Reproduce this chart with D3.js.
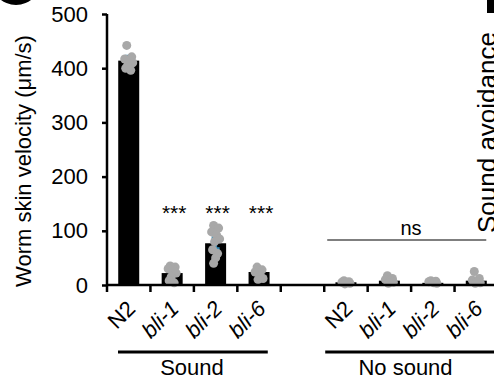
<!DOCTYPE html>
<html>
<head>
<meta charset="utf-8">
<script src="https://cdn.jsdelivr.net/npm/d3@7"></script>
<style>
  body { margin: 0; background: #fff; }
  text { font-family: "Liberation Sans", Arial, sans-serif; fill: #000; }
</style>
</head>
<body>
<div id="chart"></div>
<script>
const groups = ["Sound", "No sound"]
const strains = ["N2", "bli-1", "bli-2", "bli-6"]
const yTicks = [0, 100, 200, 300, 400, 500]

const soundMeans = [414, 22, 77, 24]
const soundSem = [8, 4, 10, 4]
const noSoundMeans = [5, 8, 4, 8]
const noSoundSem = [1, 2, 1, 3]

const soundPoints = [
  [442, 421, 417, 414, 410, 405, 400, 396],
  [35, 33, 30, 28, 22, 15, 8, 4],
  [110, 105, 98, 92, 85, 80, 65, 58, 50, 40],
  [33, 28, 24, 18, 12, 10]
]
const noSoundPoints = [
  [8, 6, 5, 4, 3, 2],
  [17, 12, 10, 7, 5, 3],
  [8, 7, 6, 4, 3],
  [25, 12, 9, 6, 4, 3]
]
const soundStars = ["", "***", "***", "***"]
const noSoundLabel = "ns"

const width = 494, height = 383
const blue = "#3a8db4", grey = "#a8a8a8"

// one band per bar, with an empty band between the two groups
const slots = [
  ...strains.map((s, i) => ({ key: "s" + i, strain: s, mean: soundMeans[i], sem: soundSem[i], pts: soundPoints[i] })),
  { key: "gap" },
  ...strains.map((s, i) => ({ key: "n" + i, strain: s, mean: noSoundMeans[i], sem: noSoundSem[i], pts: noSoundPoints[i] }))
]

const svg = d3.select("#chart").append("svg")
  .attr("width", width)
  .attr("height", height)

const x = d3.scaleBand()
  .domain(slots.map(d => d.key))
  .range([107, 498])
  .padding(0)

const y = d3.scaleLinear()
  .domain([0, 500])
  .range([285, 14])

const bw = x.bandwidth()
const barW = 21
const cx = k => x(k) + bw / 2
const bars = slots.filter(d => d.key !== "gap")

// panel letters (cropped)
svg.append("circle").attr("cx", 16).attr("cy", -20).attr("r", 25).attr("fill", "#000")
svg.append("rect").attr("x", 487).attr("y", 0).attr("width", 7).attr("height", 13).attr("fill", "#000")

// bars
svg.append("g").selectAll("rect")
  .data(bars)
  .join("rect")
  .attr("x", d => cx(d.key) - barW / 2)
  .attr("y", d => y(d.mean))
  .attr("width", barW)
  .attr("height", d => y(0) - y(d.mean))
  .attr("fill", "#000")

// error bars
const eb = svg.append("g").attr("stroke", blue).attr("stroke-width", 3)
eb.selectAll("line.v")
  .data(bars)
  .join("line")
  .attr("class", "v")
  .attr("x1", d => cx(d.key)).attr("x2", d => cx(d.key))
  .attr("y1", d => y(d.mean - d.sem)).attr("y2", d => y(d.mean + d.sem))
eb.selectAll("line.cap")
  .data(bars.flatMap(d => [{ k: d.key, v: d.mean + d.sem }, { k: d.key, v: d.mean - d.sem }]))
  .join("line")
  .attr("class", "cap")
  .attr("x1", d => cx(d.k) - 4).attr("x2", d => cx(d.k) + 4)
  .attr("y1", d => y(d.v)).attr("y2", d => y(d.v))

// points
const jitter = [-2, 3, -4, 1, 4, -1, -3, 2, 0, -2]
svg.append("g").selectAll("circle")
  .data(bars.flatMap(d => d.pts.map((v, i) => ({ k: d.key, v, i }))))
  .join("circle")
  .attr("cx", d => cx(d.k) + jitter[d.i % jitter.length])
  .attr("cy", d => y(d.v))
  .attr("r", 4.5)
  .attr("fill", grey)

// y axis
const yAxis = d3.axisLeft(y).tickValues(yTicks).tickSize(5).tickPadding(14)
const gy = svg.append("g").attr("transform", "translate(107,0)").call(yAxis)
gy.select(".domain").attr("stroke-width", 2.5).attr("d", "M0,285V14")
gy.selectAll(".tick line").attr("stroke-width", 2.5)
gy.selectAll(".tick text").attr("font-size", 22).attr("font-family", "Liberation Sans, Arial, sans-serif")

svg.append("text")
  .attr("transform", "translate(31,161) rotate(-90)")
  .attr("text-anchor", "middle")
  .attr("font-size", 22)
  .text("Worm skin velocity (μm/s)")

// x axis: line with ticks at band edges
const gx = svg.append("g")
gx.append("line")
  .attr("x1", 106).attr("x2", width)
  .attr("y1", y(0)).attr("y2", y(0))
  .attr("stroke", "#000").attr("stroke-width", 2.5)
gx.selectAll("line.t")
  .data(slots)
  .join("line")
  .attr("class", "t")
  .attr("x1", d => x(d.key)).attr("x2", d => x(d.key))
  .attr("y1", y(0)).attr("y2", y(0) + 7)
  .attr("stroke", "#000").attr("stroke-width", 2.5)

gx.selectAll("text")
  .data(bars)
  .join("text")
  .attr("transform", d => `translate(${cx(d.key) + 8},310) rotate(-45)`)
  .attr("text-anchor", "end")
  .attr("font-size", 22)
  .attr("font-style", d => d.strain === "N2" ? "normal" : "italic")
  .text(d => d.strain)

// significance
svg.append("g").selectAll("text")
  .data(bars.slice(0, 4))
  .join("text")
  .attr("x", d => cx(d.key) + 2)
  .attr("y", 220)
  .attr("text-anchor", "middle")
  .attr("font-size", 21)
  .text((d, i) => soundStars[i])

const ns = bars.slice(4)
svg.append("line")
  .attr("x1", x(ns[0].key) + 3).attr("x2", cx(ns[3].key) + 10)
  .attr("y1", 240).attr("y2", 240)
  .attr("stroke", "#000").attr("stroke-width", 1.2)
svg.append("text")
  .attr("x", 411).attr("y", 235)
  .attr("text-anchor", "middle")
  .attr("font-size", 20)
  .text(noSoundLabel)

// group labels
const groupSpan = [bars.slice(0, 4), bars.slice(4)]
groupSpan.forEach((g, i) => {
  const left = x(g[0].key) + 11 - (i ? 10 : 0)
  const right = x(g[3].key) + bw - 13 + (i ? 10 : 0)
  svg.append("line")
    .attr("x1", left).attr("x2", right)
    .attr("y1", 352).attr("y2", 352)
    .attr("stroke", "#000").attr("stroke-width", 3)
  svg.append("text")
    .attr("x", i ? 405.5 : 192)
    .attr("y", 375)
    .attr("text-anchor", "middle")
    .attr("font-size", 22)
    .text(groups[i])
})

// neighbouring panel title (cropped)
svg.append("text")
  .attr("transform", "translate(496,233) rotate(-90)")
  .attr("text-anchor", "start")
  .attr("font-size", 26)
  .text("Sound avoidance")
</script>
</body>
</html>
